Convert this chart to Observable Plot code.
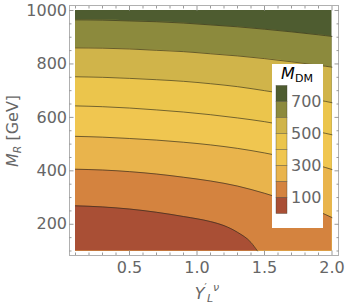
<!DOCTYPE html>
<html><head><meta charset="utf-8">
<script src="https://cdn.jsdelivr.net/npm/d3@7"></script>
<script src="https://cdn.jsdelivr.net/npm/@observablehq/plot@0.6"></script>
<style>body{margin:0;background:#fff} svg{font-family:"DejaVu Sans";overflow:visible}</style>
</head><body><div id="chart"></div>
<script>
// x grid (Y'_L^ν) and contour positions (M_R in GeV)
const xs   = [0.1, 0.3, 0.5, 0.7, 0.9, 1.1, 1.3, 1.5, 1.7, 1.9, 2.0];
const c700 = [965, 964, 961, 958, 953, 946, 939, 930, 920, 909, 903];
const c600 = [860, 859, 856, 851, 846, 838, 830, 820, 808, 795, 788];
const c500 = [752, 750, 746, 741, 735, 726, 715, 700, 684, 665, 655];
const c400 = [643, 640, 635, 628, 620, 610, 598, 584, 566, 546, 535];
const c300 = [529, 526, 521, 515, 507, 497, 484, 467, 446, 420, 405];
const c200 = [406, 403, 397, 388, 376, 362, 343, 316, 284, 248, 225];
const x100 = [0.1, 0.3, 0.5, 0.7, 0.9, 1.1, 1.2, 1.3, 1.4, 1.448];
const c100 = [269, 265, 257, 245, 229, 210, 195, 170, 132, 100];
const levels = [100, 200, 300, 400, 500, 600, 700];
const legendLabels = [700, 500, 300, 100];
const bandColors = ["#a94f35", "#d4833f", "#e9b44c", "#f0c650", "#ebc54c", "#d0b44a", "#8c8a3d", "#4e5c30"];
const xMajor = [0.5, 1.0, 1.5, 2.0];
const xMinor = [0.1,0.2,0.3,0.4,0.6,0.7,0.8,0.9,1.1,1.2,1.3,1.4,1.6,1.7,1.8,1.9];
const yMajor = [200, 400, 600, 800, 1000];
const yMinor = [100,150,250,300,350,450,500,550,650,700,750,850,900,950];

const cont = [
  {level: 100, xs: x100, ys: c100},
  {level: 200, xs, ys: c200},
  {level: 300, xs, ys: c300},
  {level: 400, xs, ys: c400},
  {level: 500, xs, ys: c500},
  {level: 600, xs, ys: c600},
  {level: 700, xs, ys: c700}
];
const rows = c => c.xs.map((x, i) => ({x, y: c.ys[i], y1: 100}));
const topBand = xs.map(x => ({x, y: 1000, y1: 100}));

const marks = [];
// painter's order: top band first, then each lower band over it
marks.push(Plot.areaY(topBand, {x: "x", y1: "y1", y2: "y", fill: bandColors[7]}));
for (let k = cont.length - 1; k >= 0; k--) {
  marks.push(Plot.areaY(rows(cont[k]), {x: "x", y1: "y1", y2: "y", fill: bandColors[k], curve: "monotone-x"}));
}
for (const c of cont) {
  marks.push(Plot.line(rows(c), {x: "x", y: "y", stroke: "#2a2a1a", strokeOpacity: 0.7, strokeWidth: 0.9, curve: "monotone-x"}));
}
const tickStyle = {stroke: "#9a9a9a", label: null, tickFormat: () => ""};
marks.push(
  Plot.frame({stroke: "#b0b0b0"}),
  Plot.axisX(xMajor, {anchor: "bottom", tickSize: -4.5, ...tickStyle}),
  Plot.axisX(xMinor, {anchor: "bottom", tickSize: -2.5, ...tickStyle}),
  Plot.axisX(xMajor, {anchor: "top", tickSize: -4.5, ...tickStyle}),
  Plot.axisX(xMinor, {anchor: "top", tickSize: -2.5, ...tickStyle}),
  Plot.axisY(yMajor, {anchor: "left", tickSize: -4.5, ...tickStyle}),
  Plot.axisY(yMinor, {anchor: "left", tickSize: -2.5, ...tickStyle}),
  Plot.axisY(yMajor, {anchor: "right", tickSize: -4.5, ...tickStyle}),
  Plot.axisY(yMinor, {anchor: "right", tickSize: -2.5, ...tickStyle}),
  Plot.axisX(xMajor, {anchor: "bottom", tickSize: 0, tickPadding: 6, tickFormat: d => d.toFixed(1), fontSize: 16, fill: "#666", label: null}),
  Plot.axisY(yMajor, {anchor: "left", tickSize: 0, tickPadding: 2.5, tickFormat: d => String(d), fontSize: 16, fill: "#666", label: null})
);

const svg = Plot.plot({
  width: 346, height: 305,
  marginLeft: 69, marginRight: 8, marginTop: 5, marginBottom: 50,
  insetLeft: 6, insetRight: 6.5, insetTop: 5, insetBottom: 4.5,
  style: {fontFamily: "DejaVu Sans", background: "#fff"},
  x: {domain: [0.1, 2.0]},
  y: {domain: [100, 1000]},
  marks
});
document.getElementById("chart").appendChild(svg);

const s = d3.select(svg);
// axis titles
const yl = s.append("text").attr("transform", "translate(18,131) rotate(-90)")
  .attr("text-anchor", "middle").attr("font-size", 16).attr("fill", "#666");
yl.append("tspan").attr("font-style", "italic").text("M");
yl.append("tspan").attr("font-size", 11).attr("font-style", "italic").attr("dy", 3).text("R");
yl.append("tspan").attr("dy", -3).text(" [GeV]");

const xl = s.append("text").attr("x", 207).attr("y", 299)
  .attr("text-anchor", "middle").attr("font-size", 16).attr("fill", "#666");
xl.append("tspan").attr("font-style", "italic").text("Y");
xl.append("tspan").attr("font-size", 10).attr("dy", -8).text("\u2032");
xl.append("tspan").attr("font-size", 11).attr("font-style", "italic").attr("dy", 11).text("L");
xl.append("tspan").attr("font-size", 11).attr("font-style", "italic").attr("dy", -11).text("\u03BD");

// legend
const g = s.append("g").attr("text-anchor", "start");
g.append("rect").attr("x", 272).attr("y", 64).attr("width", 51).attr("height", 164).attr("fill", "#fff");
const lt = g.append("text").attr("x", 297).attr("y", 79).attr("text-anchor", "middle").attr("font-size", 16).attr("fill", "#000");
lt.append("tspan").attr("font-style", "italic").text("M");
lt.append("tspan").attr("font-size", 11).attr("dy", 3).text("DM");
const sw = 16, sx = 276, sy = 85.5;
bandColors.slice().reverse().forEach((c, i) => {
  g.append("rect").attr("x", sx).attr("y", sy + i * sw).attr("width", 11).attr("height", sw)
    .attr("fill", c).attr("stroke", "#3a3a2a").attr("stroke-opacity", 0.6).attr("stroke-width", 0.6);
});
legendLabels.forEach((v, j) => {
  g.append("text").attr("x", 291).attr("y", sy + sw * (1 + 2 * j)).attr("dy", "0.36em")
    .attr("text-anchor", "start").attr("font-size", 16).attr("fill", "#666").text(v);
});
</script></body></html>
